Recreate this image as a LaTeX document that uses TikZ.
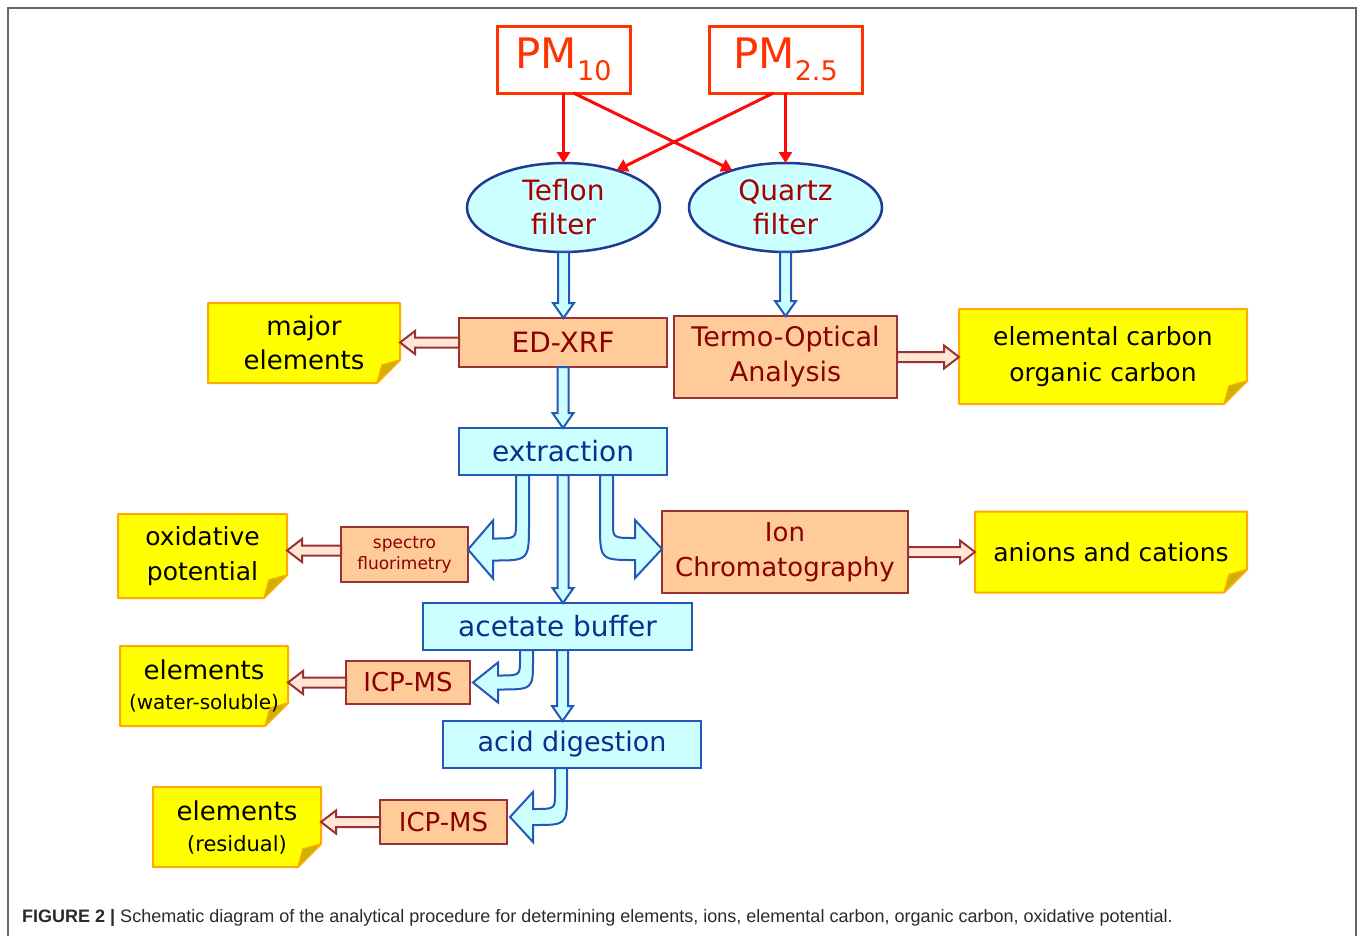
\documentclass[tikz,border=0pt]{standalone}
\usepackage{fontspec}
\setmainfont{DejaVu Sans}
\newfontfamily\capfont{Liberation Sans}
\usetikzlibrary{shapes.geometric,arrows.meta,calc,backgrounds}
\definecolor{pmred}{HTML}{FF3300}
\definecolor{arrred}{HTML}{FF0A0A}
\definecolor{cyanfill}{HTML}{CCFFFF}
\definecolor{ellblue}{HTML}{1F3A93}
\definecolor{boxblue}{HTML}{2358B8}
\definecolor{bluetext}{HTML}{0F2D8C}
\definecolor{peach}{HTML}{FFCC99}
\definecolor{peachborder}{HTML}{993333}
\definecolor{darkredtext}{HTML}{8B0000}
\definecolor{elltext}{HTML}{A80000}
\definecolor{noteyellow}{HTML}{FFFF00}
\definecolor{noteborder}{HTML}{FFAA00}
\definecolor{foldolive}{HTML}{C8B400}
\definecolor{arrpeach}{HTML}{FFE6D5}
\definecolor{framegray}{HTML}{666666}
\definecolor{capgray}{HTML}{2A2A2A}
\newcommand\fs[2]{\fontsize{#1}{#2}\selectfont}
\tikzset{
  pmbox/.style={draw=pmred, line width=3pt, text=pmred, inner sep=0pt, outer sep=0pt, minimum height=67pt},
  filterell/.style={ellipse, draw=ellblue, line width=2.5pt, fill=cyanfill, text=elltext, align=center, inner sep=0pt, outer sep=0pt, minimum width=193pt, minimum height=89pt, font=\fs{28}{34}},
  peachbox/.style={draw=peachborder, line width=2pt, fill=peach, text=darkredtext, align=center, inner sep=0pt, outer sep=0pt},
  bluebox/.style={draw=boxblue, line width=2pt, fill=cyanfill, text=bluetext, align=center, inner sep=0pt, outer sep=0pt},
  notebox/.style={align=center, inner sep=0pt, outer sep=0pt, text=black},
  notefill/.style={draw=noteborder, line width=2pt, fill=noteyellow, line join=round},
  foldfill/.style={draw=noteborder, line width=1.5pt, fill=foldolive, line join=round},
  redarr/.style={draw=arrred, line width=3pt, -{Triangle[length=11pt,width=13pt]}},
  blkblue/.style={draw=boxblue, line width=2pt, fill=cyanfill, line join=miter},
  blkpeach/.style={draw=peachborder, line width=2pt, fill=arrpeach, line join=miter},
}
% note shape drawn behind a named node
\newcommand\notefold[1]{%
  \begin{scope}[on background layer]
  \draw[notefill] (#1.north west) -- (#1.north east) -- ([yshift=23pt]#1.south east) -- ([xshift=-23pt]#1.south east) -- (#1.south west) -- cycle;
  \draw[foldfill] ([xshift=-23pt]#1.south east) -- ([yshift=23pt]#1.south east) -- ([xshift=-18pt,yshift=18pt]#1.south east) -- cycle;
  \end{scope}}
% vertical block arrow
\newcommand\vblk[2]{\draw[blkblue] let \p1=(#1), \p2=(#2) in
  (\x1-5.5pt,\y1) -- (\x1-5.5pt,\y2+15pt) -- (\x1-10.5pt,\y2+15pt) -- (\x1,\y2) -- (\x1+10.5pt,\y2+15pt) -- (\x1+5.5pt,\y2+15pt) -- (\x1+5.5pt,\y1) -- cycle;}
% horizontal block arrows (left / right)
\newcommand\hblkL[2]{\draw[blkpeach] let \p1=(#1), \p2=(#2) in
  (\x1,\y1+5pt) -- (\x2+15pt,\y1+5pt) -- (\x2+15pt,\y1+11.5pt) -- (\x2,\y1) -- (\x2+15pt,\y1-11.5pt) -- (\x2+15pt,\y1-5pt) -- (\x1,\y1-5pt) -- cycle;}
\newcommand\hblkR[2]{\draw[blkpeach] let \p1=(#1), \p2=(#2) in
  (\x1,\y1+5pt) -- (\x2-15pt,\y1+5pt) -- (\x2-15pt,\y1+11.5pt) -- (\x2,\y1) -- (\x2-15pt,\y1-11.5pt) -- (\x2-15pt,\y1-5pt) -- (\x1,\y1-5pt) -- cycle;}
% curved block arrows: #1 shaft top centre, #2 tip, #3 shaft half width, #4 band half width, #5 head half width, #6 head length
\newcommand\curvL[6]{\draw[blkblue] let \p1=(#1), \p2=(#2) in
  (\x1-#3,\y1) -- (\x1-#3,\y2+#4+15pt) .. controls (\x1-#3,\y2+#4) .. (\x2+#6,\y2+#4) -- (\x2+#6,\y2+#5) -- (\x2,\y2) -- (\x2+#6,\y2-#5) -- (\x2+#6,\y2-#4) .. controls (\x1+#3,\y2-#4) .. (\x1+#3,\y2+#4+15pt) -- (\x1+#3,\y1) -- cycle;}
\newcommand\curvR[6]{\draw[blkblue] let \p1=(#1), \p2=(#2) in
  (\x1+#3,\y1) -- (\x1+#3,\y2+#4+15pt) .. controls (\x1+#3,\y2+#4) .. (\x2-#6,\y2+#4) -- (\x2-#6,\y2+#5) -- (\x2,\y2) -- (\x2-#6,\y2-#5) -- (\x2-#6,\y2-#4) .. controls (\x1-#3,\y2-#4) .. (\x1-#3,\y2+#4+15pt) -- (\x1-#3,\y1) -- cycle;}

\begin{document}
\begin{tikzpicture}[x=1pt,y=-1pt]
\useasboundingbox (0,0) rectangle (1358,935);
% frame
\draw[framegray, line width=1.5pt] (8,940) -- (8,8) -- (1356,8) -- (1356,940);

% PM boxes
\node[pmbox, minimum width=133pt] (pm10) at (563.5,59.5) {\fs{42}{42}PM\raisebox{-12pt}{\fs{27}{27}10}};
\node[pmbox, minimum width=153pt] (pm25) at (785.5,59.5) {\fs{42}{42}PM\raisebox{-12pt}{\fs{27}{27}2.5}};

% filters
\node[filterell] (tef) at (563.5,207.5) {Teflon\\filter};
\node[filterell] (qtz) at (785.5,207.5) {Quartz\\filter};

% red arrows
\draw[redarr] (pm10.south) -- (tef.north);
\draw[redarr] ($(pm10.south)+(10,0)$) -- (qtz.145);
\draw[redarr] ($(pm25.south)+(-12,0)$) -- (tef.35);
\draw[redarr] (pm25.south) -- (qtz.north);

% analysis boxes
\node[peachbox, minimum width=208pt, minimum height=49pt, font=\fs{28}{34}] (edx) at (563,342.5) {ED-XRF};
\node[peachbox, minimum width=223pt, minimum height=82pt, font=\fs{27}{35}] (toa) at (785.5,357) {Termo-Optical\\Analysis};
\node[bluebox, minimum width=208pt, minimum height=47pt, font=\fs{28}{34}] (extr) at (563,451.5) {extraction};
\node[peachbox, minimum width=127pt, minimum height=55pt, font=\fs{17}{21}] (spec) at (404.5,554.5) {spectro\\fluorimetry};
\node[peachbox, minimum width=246pt, minimum height=82pt, font=\fs{26}{35}] (ic) at (785,552) {Ion\\Chromatography};
\node[bluebox, minimum width=269pt, minimum height=47pt, font=\fs{28}{34}] (acet) at (557.5,626.5) {acetate buffer};
\node[peachbox, minimum width=124pt, minimum height=43pt, font=\fs{26}{30}] (icp1) at (408,682.5) {ICP-MS};
\node[bluebox, minimum width=258pt, minimum height=47pt, font=\fs{27}{34}] (acid) at (572,744.5) {acid digestion};
\node[peachbox, minimum width=127pt, minimum height=44pt, font=\fs{26}{30}] (icp2) at (443.5,822) {ICP-MS};

% result notes
\node[notebox, minimum width=192pt, minimum height=80pt, font=\fs{26}{34}] (major) at (304,343) {major\\elements};
\notefold{major}
\node[notebox, minimum width=288pt, minimum height=95pt, font=\fs{25}{36}] (ec) at (1103,356.5) {elemental carbon\\organic carbon};
\notefold{ec}
\node[notebox, minimum width=169pt, minimum height=84pt, font=\fs{25}{35}] (oxid) at (202.5,556) {oxidative\\potential};
\notefold{oxid}
\node[notebox, minimum width=272pt, minimum height=81pt, font=\fs{25}{30}] (anions) at (1111,552) {anions and cations};
\notefold{anions}
\node[notebox, minimum width=168pt, minimum height=80pt, font=\fs{26}{30}] (ws) at (204,686) {elements\\{\fs{20}{24}(water-soluble)}};
\notefold{ws}
\node[notebox, minimum width=168pt, minimum height=80pt, font=\fs{26}{31}] (res) at (237,827) {elements\\{\fs{21}{25}(residual)}};
\notefold{res}

% blue block arrows
\vblk{tef.south}{edx.north}
\vblk{qtz.south}{toa.north}
\vblk{edx.south}{extr.north}
\vblk{extr.south}{acet.north}
\vblk{$(acet.south)+(5,0)$}{acid.north}
\curvL{$(extr.south)+(-40.5,0)$}{$(spec.east)+(0,-5)$}{6.5pt}{11pt}{29pt}{25pt}
\curvR{$(extr.south)+(43.5,0)$}{$(ic.west)+(0,-3)$}{6.5pt}{11pt}{29pt}{27pt}
\curvL{$(acet.south)+(-31,0)$}{$(icp1.east)+(3,0)$}{6.5pt}{7pt}{20pt}{25pt}
\curvL{$(acid.south)+(-11,0)$}{$(icp2.east)+(3,-5)$}{6pt}{8pt}{25pt}{23pt}

% peach block arrows
\hblkL{edx.west}{major.east}
\hblkR{toa.east}{ec.west}
\hblkL{$(spec.west)+(0,-4)$}{oxid.east}
\hblkR{ic.east}{anions.west}
\hblkL{icp1.west}{ws.east}
\hblkL{icp2.west}{res.east}

% caption
\node[anchor=base west, inner sep=0pt, text=capgray, font=\capfont\fs{18}{22}] (cap) at (22,922) {\textbf{FIGURE 2 |} Schematic diagram of the analytical procedure for determining elements, ions, elemental carbon, organic carbon, oxidative potential.};
\end{tikzpicture}
\end{document}
